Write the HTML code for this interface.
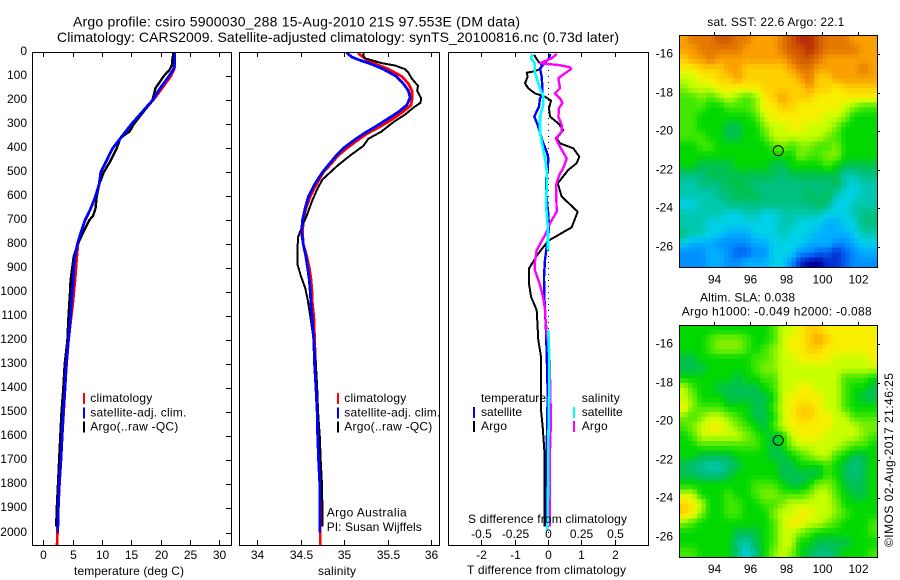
<!DOCTYPE html>
<html>
<head>
<meta charset="utf-8">
<title>Argo profile</title>
<style>
html,body{margin:0;padding:0;background:#fff;}
svg{display:block;}
text{font-family:"Liberation Sans",sans-serif;font-size:12px;fill:#000;}
</style>
</head>
<body>
<svg id="chart" xmlns="http://www.w3.org/2000/svg" width="900" height="580" viewBox="0 0 900 580"></svg>
<script>
// ---------- tick labels ----------
const depthTicks = [0,100,200,300,400,500,600,700,800,900,1000,1100,1200,1300,1400,1500,1600,1700,1800,1900,2000];
const tempTicks = [0,5,10,15,20,25,30];
const salTicks = [34,34.5,35,35.5,36];
const tDiffTicks = [-2,-1,0,1,2];
const sDiffTicks = [-0.5,-0.25,0,0.25,0.5];
const lonTicks = [94,96,98,100,102];
const latTicks = [-16,-18,-20,-22,-24,-26];

// ---------- temperature profiles ----------
const tempClimDepth = [0,50,70,100,150,200,250,300,350,400,450,500,550,600,650,700,750,800,850,900,950,1000,1050,1100,1200,1300,1400,1500,1600,1700,1800,1900,2000,2053];
const tempClimValue = [22.4,22.4,22.3,21.7,20.2,18.7,16.8,15.2,13.4,11.8,10.8,9.8,9.5,8.9,8.1,7.1,6.4,5.9,5.7,5.55,5.4,5.2,5.0,4.75,4.3,3.95,3.7,3.45,3.2,3.0,2.75,2.55,2.4,2.35];
const tempSatDepth = [0,50,70,100,150,200,250,300,350,400,450,500,550,600,650,700,750,800,850,900,950,1000,1100,1200,1300,1400,1500,1600,1700,1800,1900,2000];
const tempSatValue = [22.4,22.4,22.2,21.4,19.9,18.6,16.8,15,13.4,11.8,10.8,9.8,9.5,8.9,8.1,7.1,6.4,5.8,5.4,5.2,5.1,4.9,4.65,4.26,3.9,3.7,3.4,3.2,3.0,2.7,2.55,2.45];
const tempArgoDepth = [0,30,50,70,100,150,200,250,300,330,345,360,400,450,500,550,600,650,680,700,750,800,850,900,950,1000,1100,1200,1300,1400,1500,1600,1700,1800,1900,1975];
const tempArgoValue = [22.2,22,21.95,21.6,20.5,19.1,18.6,17,15.4,14.7,13.8,13.1,12.5,11.5,10.3,9.5,9.1,8.9,8.5,7.8,6.8,5.85,5.2,4.9,4.65,4.55,4.3,4.1,3.65,3.4,3.1,2.9,2.7,2.5,2.3,2.2];

// ---------- salinity profiles ----------
const salClimDepth = [0,10,30,50,70,100,130,160,190,220,250,280,310,340,370,400,430,460,500,550,600,650,700,750,800,850,900,950,1000,1050,1100,1200,1300,1400,1500,1600,1700,1800,1900,2000,2053];
const salClimValue = [35.16,35.18,35.26,35.37,35.51,35.66,35.74,35.78,35.785,35.77,35.67,35.55,35.41,35.26,35.14,35.03,34.93,34.86,34.76,34.68,34.61,34.56,34.53,34.52,34.53,34.57,34.6,34.62,34.63,34.635,34.65,34.66,34.67,34.68,34.69,34.7,34.71,34.72,34.725,34.725,34.725];
const salSatDepth = [0,5,20,30,50,70,100,130,160,190,220,250,280,310,340,370,400,430,460,500,550,600,650,700,750,800,850,900,950,1000,1050,1100,1200,1300,1400,1500,1600,1700,1800,1900,2000];
const salSatValue = [35.03,35.04,35.09,35.16,35.32,35.45,35.6,35.68,35.74,35.76,35.72,35.62,35.49,35.36,35.22,35.1,34.99,34.91,34.84,34.75,34.66,34.59,34.55,34.52,34.51,34.53,34.56,34.58,34.6,34.61,34.62,34.63,34.65,34.66,34.676,34.69,34.695,34.706,34.72,34.72,34.72];
const salArgoDepth = [0,15,25,45,55,70,85,110,140,160,190,210,230,260,290,330,360,390,430,470,500,530,570,620,680,720,770,830,880,930,980,1030,1100,1200,1300,1400,1500,1600,1700,1800,1900,1975];
const salArgoValue = [35.22,35.22,35.24,35.43,35.585,35.7,35.74,35.78,35.85,35.84,35.885,35.88,35.8,35.7,35.57,35.43,35.28,35.22,35.07,34.93,34.84,34.75,34.69,34.63,34.57,34.52,34.47,34.46,34.46,34.5,34.55,34.58,34.61,34.65,34.675,34.69,34.7,34.72,34.73,34.745,34.75,34.75];

// ---------- difference profiles ----------
const tDiffArgoDepth = [11,35,57,71,81,85,101,129,150,171,185,201,233,268,296,324,358,379,400,435,462,490,546,601,664,729,785,838,900,963,1018,1074,1199,1268,1490,1560,1657,1976];
const tDiffArgoValue = [-0.41,-0.31,-0.17,-0.24,-0.47,-0.64,-0.61,-0.69,-0.59,-0.39,-0.09,0.09,0.03,0.06,0.31,0.46,0.26,0.36,0.76,0.94,0.86,0.61,0.29,0.41,0.89,0.71,0.01,-0.29,-0.57,-0.57,-0.51,-0.34,-0.29,-0.21,-0.21,-0.16,-0.11,-0.11];
const tDiffSatDepth = [7,25,67,101,143,178,192,226,268,303,337,379,414,442,490,532,615,671,740,810,865,935,1018,1074,1157,1254,1420,1657,1976];
const tDiffSatValue = [0.07,0.03,-0.24,-0.19,-0.17,-0.17,-0.24,-0.27,-0.41,-0.31,-0.24,-0.14,-0.04,0.01,-0.01,-0.06,-0.04,0.01,0.03,-0.04,-0.09,-0.12,-0.11,-0.09,-0.06,-0.04,-0.01,-0.04,-0.04];
const sDiffArgoDepth = [7,25,46,53,62,71,87,108,150,171,192,212,233,268,303,331,358,393,442,462,490,504,553,664,712,761,824,879,907,969,1025,1074,1115,1171,1240,1351,1532,1657,1976];
const sDiffArgoValue = [0.065,0.028,-0.06,0.078,0.165,0.172,0.128,0.078,0.09,0.052,0.09,0.108,0.082,0.078,0.103,0.103,0.058,0.09,0.14,0.128,0.108,0.09,0.06,0.065,0.015,-0.022,-0.085,-0.1,-0.098,-0.06,-0.035,-0.022,-0.018,-0.01,0.01,0.015,0.022,0.015,0.015];
const sDiffSatDepth = [7,25,46,81,108,150,185,219,268,337,393,449,490,560,629,671,740,823,null,1157,1254,1420,1643,1851,1990];
const sDiffSatValue = [-0.118,-0.128,-0.098,-0.1,-0.085,-0.06,-0.035,-0.035,-0.06,-0.06,-0.04,-0.02,-0.01,-0.01,-0.015,-0.01,0,0,null,0.002,0.008,0.008,0.002,0,-0.005];

// ---------- map colour levels (rows north to south, columns west to east) ----------
const sstGrid = [
[15,16,16,16,17,17,16,16,15,15,15,16,17,18,18,17,16,16,16,15,15,15],
[15,15,16,16,16,16,16,15,15,15,15,16,17,17,18,17,16,16,16,16,15,15],
[14,15,15,16,15,15,15,15,15,15,15,15,16,17,17,16,15,15,15,15,15,15],
[13,13,14,14,14,15,15,14,14,14,14,14,15,16,16,15,15,15,15,15,16,15],
[12,12,13,13,14,14,15,14,14,14,14,14,14,15,16,14,14,15,15,15,15,15],
[11,12,12,12,13,13,13,13,13,14,14,14,14,14,15,14,14,13,14,14,14,14],
[10,10,11,10,11,12,11,10,11,13,14,15,14,14,14,13,13,13,13,13,13,13],
[10,10,10,9,9,10,10,10,11,13,13,14,14,13,13,13,13,13,12,11,10,10],
[10,10,9,9,9,9,9,9,10,12,13,13,13,13,13,13,12,12,11,9,9,9],
[10,10,9,9,9,8,8,9,9,11,12,12,13,13,12,12,12,11,9,9,9,9],
[10,10,10,9,9,8,8,9,9,10,12,12,12,12,12,12,11,10,9,9,9,9],
[9,9,10,10,9,9,9,9,9,9,10,11,10,11,11,10,10,11,9,9,9,9],
[9,9,9,9,9,9,9,9,9,9,9,9,9,11,10,10,11,11,9,9,9,9],
[9,9,8,8,8,8,9,9,9,9,8,8,9,9,9,9,10,9,8,8,8,8],
[7,7,7,8,8,8,8,8,8,8,8,7,8,8,8,8,8,8,6,6,7,7],
[6,6,7,7,7,8,8,8,7,7,7,7,7,7,7,7,7,8,6,5,6,6],
[6,6,6,6,7,7,8,8,8,7,7,7,7,7,8,7,8,6,5,5,6,6],
[5,5,6,6,6,7,7,7,7,7,7,7,7,7,7,8,7,5,5,6,6,6],
[6,6,6,6,6,5,5,6,6,5,5,6,6,6,6,6,5,5,5,6,7,7],
[6,6,6,5,5,5,5,5,5,5,5,6,6,5,5,5,4,4,5,5,7,7],
[7,6,6,5,5,4,4,4,5,5,5,6,5,5,5,4,4,4,4,5,6,6],
[5,4,4,4,3,3,3,3,4,4,5,5,5,5,4,4,4,3,3,4,5,5],
[3,3,3,4,4,3,2,2,3,3,5,5,5,3,3,2,2,1,2,3,4,4],
[3,3,3,4,4,3,3,4,4,4,5,5,3,1,0,0,1,1,2,3,3,3]
];
const slaGrid = [
[9,9,9,9,9,9,9,9,9,9,10,12,12,13,14,14,13,13,13,13,13,13],
[9,9,9,10,11,11,11,10,9,9,10,12,13,13,14,15,14,13,13,13,13,13],
[9,9,9,10,11,11,11,10,9,10,11,12,13,13,14,14,13,13,13,13,13,13],
[8,8,9,9,9,9,9,9,10,10,11,12,12,13,13,13,13,12,12,12,12,13],
[8,8,8,9,9,9,9,9,10,11,11,12,12,12,12,12,12,12,12,12,12,12],
[9,9,9,9,9,9,8,9,9,10,10,12,12,12,12,12,12,12,10,10,10,9],
[12,10,9,9,8,8,8,8,8,9,10,12,12,13,13,12,12,12,10,9,9,8],
[12,11,9,9,9,8,8,8,8,8,9,12,13,13,13,13,12,12,10,9,8,8],
[13,11,10,10,10,9,9,9,8,8,10,12,13,14,14,13,12,12,10,9,9,9],
[11,10,11,12,12,11,10,9,8,8,9,12,13,14,14,13,13,12,12,10,10,10],
[10,11,12,13,13,12,11,10,9,8,10,12,13,13,13,13,13,12,12,12,11,11],
[9,10,12,12,12,12,12,11,10,9,8,9,12,13,13,13,12,12,12,12,11,10],
[9,9,10,10,10,10,10,10,10,9,8,9,11,12,12,12,12,12,11,10,10,9],
[9,9,8,8,8,8,9,9,9,9,8,8,9,10,11,12,12,10,9,8,8,9],
[8,7,7,6,6,7,8,9,9,9,9,8,8,9,9,9,10,9,8,7,8,9],
[8,8,7,7,7,8,9,9,9,9,9,8,8,8,8,8,10,9,8,7,8,9],
[9,9,9,9,9,9,9,9,10,10,10,9,8,8,9,11,11,10,8,8,8,9],
[12,12,9,9,9,10,9,9,10,11,11,10,10,10,11,12,12,10,9,8,8,9],
[14,13,12,9,9,10,10,9,9,10,10,11,12,12,12,12,12,11,9,9,9,9],
[14,13,11,9,9,10,10,9,9,9,11,12,12,13,13,12,12,11,10,9,9,9],
[11,10,9,9,9,9,9,9,9,9,10,12,13,13,12,12,11,10,9,9,9,10],
[9,9,9,9,9,9,8,8,8,9,10,12,12,11,10,9,9,9,9,9,9,10],
[9,9,9,9,9,9,7,6,8,9,10,12,12,9,9,8,8,8,8,9,9,9],
[10,10,9,9,9,9,7,5,7,9,11,12,11,9,8,7,7,8,9,9,9,10]
];
const argoLon = 97.553;
const argoLat = -21;

// ---------- helpers ----------
const NS = 'http://www.w3.org/2000/svg';
const svg = document.getElementById('chart');
const colourRamp = [[0,0,160],[0,48,208],[0,96,240],[0,144,255],[0,176,255],[0,208,232],[0,200,176],[0,192,128],[0,192,80],[0,216,0],[64,232,0],[128,240,0],[200,255,0],[248,240,0],[255,208,0],[250,160,0],[228,120,0],[208,88,0],[184,40,8]];

function mk(tag, parent, name, attrs) {
  const el = document.createElementNS(NS, tag);
  
  
  for (const k in attrs) el.setAttribute(k, attrs[k]);
  parent.appendChild(el);
  return el;
}
function label(parent, name, str, x, y, anchor, fitWidth, size) {
  const attrs = {x: x, y: y, 'text-anchor': anchor || 'start'};
  if (fitWidth) { attrs.textLength = fitWidth; attrs.lengthAdjust = 'spacing'; }
  if (size) attrs.style = 'font-size:' + size + 'px';
  const el = mk('text', parent, name, attrs);
  el.textContent = str;
  return el;
}
function frame(parent, name, x0, y0, x1, y1) {
  mk('rect', parent, name, {x: x0 + 0.5, y: y0 + 0.5, width: x1 - x0, height: y1 - y0, fill: 'none', stroke: '#000', 'stroke-width': 1, 'shape-rendering': 'crispEdges'});
}
function tick(parent, name, x1, y1, x2, y2) {
  mk('line', parent, name, {x1: x1, y1: y1, x2: x2, y2: y2, stroke: '#000', 'stroke-width': 1, 'shape-rendering': 'crispEdges'});
}
function profile(parent, name, depths, values, xFn, colour, width) {
  let segs = [], cur = [];
  depths.forEach(function (d, i) {
    if (d === null || values[i] === null) { if (cur.length) segs.push(cur); cur = []; return; }
    cur.push(xFn(values[i]).toFixed(1) + ',' + yDepth(d).toFixed(1));
  });
  if (cur.length) segs.push(cur);
  segs.forEach(function (s) {
    mk('polyline', parent, name, {points: s.join(' '), fill: 'none', stroke: colour, 'stroke-width': width, 'stroke-linejoin': 'round', 'shape-rendering': 'crispEdges'});
  });
}
function yDepth(d) { return 52.3 + 0.2401 * d; }
const xTemp = function (t) { return 43.3 + 5.87 * t; };
const xSal = function (s) { return 257.3 + 86.85 * (s - 34); };
const xTDiff = function (t) { return 548 + 33.33 * t; };
const xSDiff = function (s) { return 548 + 133.33 * s; };

function clip(id, x0, y0, x1, y1) {
  const c = mk('clipPath', svg, id, {id: id});
  mk('rect', c, id + '-rect', {x: x0, y: y0, width: x1 - x0, height: y1 - y0});
  return 'url(#' + id + ')';
}

const PTOP = 52, PBOT = 545;

// ---------- titles ----------
label(svg, 'chart-title-line-1', 'Argo profile: csiro 5900030_288 15-Aug-2010 21S 97.553E (DM data)', 73, 26.5, 'start', 447, 14);
label(svg, 'chart-title-line-2', 'Climatology: CARS2009. Satellite-adjusted climatology: synTS_20100816.nc (0.73d later)', 57, 42, 'start', 562, 14);

// ---------- panel 1: temperature ----------
const p1 = mk('g', svg, 'temperature-panel', {});
const p1Lines = mk('g', p1, 'temperature-series', {'clip-path': clip('clip-temp', 32, PTOP, 232, PBOT)});
profile(p1Lines, 'temperature-climatology-line', tempClimDepth, tempClimValue, xTemp, '#ff0000', 2.8);
profile(p1Lines, 'temperature-argo-line', tempArgoDepth, tempArgoValue, xTemp, '#000000', 2.4);
profile(p1Lines, 'temperature-satellite-line', tempSatDepth, tempSatValue, xTemp, '#0000ff', 2.8);
frame(p1, 'temperature-frame', 32, PTOP, 231, PBOT);
depthTicks.forEach(function (d) {
  const y = Math.round(yDepth(d)) + 0.5;
  tick(p1, 'depth-tick', 226, y, 231, y);
  label(p1, 'depth-tick-label', String(d), 27, y + 2.6, 'end');
});
tempTicks.forEach(function (t) {
  const x = Math.round(xTemp(t)) + 0.5;
  tick(p1, 'temperature-tick-top', x, 52, x, 57);
  tick(p1, 'temperature-tick-bottom', x, 540, x, 545);
  label(p1, 'temperature-tick-label', String(t), x, 559, 'middle');
});
label(p1, 'temperature-axis-title', 'temperature (deg C)', 74, 575, 'start', 110);

// ---------- panel 2: salinity ----------
const p2 = mk('g', svg, 'salinity-panel', {});
const p2Lines = mk('g', p2, 'salinity-series', {'clip-path': clip('clip-sal', 239, PTOP, 440, PBOT)});
profile(p2Lines, 'salinity-climatology-line', salClimDepth, salClimValue, xSal, '#ff0000', 2.8);
profile(p2Lines, 'salinity-argo-line', salArgoDepth, salArgoValue, xSal, '#000000', 2);
profile(p2Lines, 'salinity-satellite-line', salSatDepth, salSatValue, xSal, '#0000ff', 2.8);
frame(p2, 'salinity-frame', 239, PTOP, 439, PBOT);
salTicks.forEach(function (s) {
  const x = Math.round(xSal(s)) + 0.5;
  tick(p2, 'salinity-tick-top', x, 52, x, 57);
  tick(p2, 'salinity-tick-bottom', x, 540, x, 545);
  label(p2, 'salinity-tick-label', String(s), x, 559, 'middle');
});
label(p2, 'salinity-axis-title', 'salinity', 318, 575, 'start', 38);
label(p2, 'credit-argo-australia', 'Argo Australia', 326.7, 516.7, 'start', 80);
label(p2, 'credit-pi-name', 'PI: Susan Wijffels', 326.7, 531, 'start', 95);

// ---------- panel 3: differences ----------
const p3 = mk('g', svg, 'difference-panel', {});
const p3Lines = mk('g', p3, 'difference-series', {'clip-path': clip('clip-diff', 448, PTOP, 649, PBOT)});
mk('line', p3Lines, 'zero-reference-line', {x1: 548.5, y1: 52, x2: 548.5, y2: 538, stroke: '#000', 'stroke-width': 1, 'stroke-dasharray': '1 5', 'shape-rendering': 'crispEdges'});
profile(p3Lines, 'tdiff-argo-line', tDiffArgoDepth, tDiffArgoValue, xTDiff, '#000000', 2);
profile(p3Lines, 'tdiff-satellite-line', tDiffSatDepth, tDiffSatValue, xTDiff, '#0000ff', 2.4);
profile(p3Lines, 'sdiff-argo-line', sDiffArgoDepth, sDiffArgoValue, xSDiff, '#ff00ff', 2.4);
profile(p3Lines, 'sdiff-satellite-line', sDiffSatDepth, sDiffSatValue, xSDiff, '#00ffff', 2.6);
frame(p3, 'difference-frame', 448, PTOP, 648, PBOT);
tDiffTicks.forEach(function (t) {
  const x = Math.round(xTDiff(t)) + 0.5;
  tick(p3, 'tdiff-tick-bottom', x, 540, x, 545);
  label(p3, 'tdiff-tick-label', String(t), x, 559, 'middle');
});
sDiffTicks.forEach(function (s) {
  const x = Math.round(xSDiff(s)) + 0.5;
  tick(p3, 'sdiff-tick-top', x, 52, x, 57);
  label(p3, 'sdiff-tick-label', String(s), x, 538, 'middle');
});
label(p3, 'sdiff-axis-title', 'S difference from climatology', 468, 523, 'start', 159);
label(p3, 'tdiff-axis-title', 'T difference from climatology', 467, 574, 'start', 159);

// ---------- legends ----------
function legendRow(parent, prefix, barX, textX, y, colour, str, w) {
  if (colour) mk('rect', parent, prefix + '-swatch', {x: barX, y: y - 9, width: 2, height: 11, fill: colour, 'shape-rendering': 'crispEdges'});
  label(parent, prefix + '-label', str, textX, y, 'start', w);
}
const lg1 = mk('g', svg, 'temperature-legend', {});
legendRow(lg1, 'temperature-legend-climatology', 83, 90.3, 402, '#ff0000', 'climatology', 62);
legendRow(lg1, 'temperature-legend-satellite', 83, 90.3, 416.5, '#0000ff', 'satellite-adj. clim.', 96);
legendRow(lg1, 'temperature-legend-argo', 83, 90.3, 430.5, '#000000', 'Argo(..raw -QC)', 88);
const lg2 = mk('g', svg, 'salinity-legend', {});
legendRow(lg2, 'salinity-legend-climatology', 337, 344.3, 402, '#ff0000', 'climatology', 62);
legendRow(lg2, 'salinity-legend-satellite', 337, 344.3, 416.5, '#0000ff', 'satellite-adj. clim.', 96);
legendRow(lg2, 'salinity-legend-argo', 337, 344.3, 430.5, '#000000', 'Argo(..raw -QC)', 88);
const lg3 = mk('g', svg, 'difference-legend', {});
legendRow(lg3, 'difference-legend-temperature', 0, 481, 402, null, 'temperature', 65);
legendRow(lg3, 'difference-legend-t-satellite', 473, 481, 416, '#0000ff', 'satellite', 41);
legendRow(lg3, 'difference-legend-t-argo', 473, 481, 430, '#000000', 'Argo', 26);
legendRow(lg3, 'difference-legend-salinity', 0, 581.7, 402, null, 'salinity', 38);
legendRow(lg3, 'difference-legend-s-satellite', 573, 581.7, 416, '#00ffff', 'satellite', 41);
legendRow(lg3, 'difference-legend-s-argo', 573, 581.7, 430, '#ff00ff', 'Argo', 26);

// ---------- maps ----------
function levelColour(v) {
  const top = colourRamp.length - 1;
  const c = Math.max(0, Math.min(top, v));
  const a = Math.floor(c), b = Math.min(top, a + 1), f = c - a;
  const ch = [0, 1, 2].map(function (k) { return Math.round(colourRamp[a][k] + (colourRamp[b][k] - colourRamp[a][k]) * f); });
  return 'rgb(' + ch.join(',') + ')';
}
function sampleGrid(grid, u, v) {
  const rows = grid.length, cols = grid[0].length;
  const cu = Math.max(0, Math.min(cols - 1, u)), cv = Math.max(0, Math.min(rows - 1, v));
  const i0 = Math.floor(cu), j0 = Math.floor(cv);
  const i1 = Math.min(cols - 1, i0 + 1), j1 = Math.min(rows - 1, j0 + 1);
  const fu = cu - i0, fv = cv - j0;
  return (grid[j0][i0] * (1 - fu) + grid[j0][i1] * fu) * (1 - fv) + (grid[j1][i0] * (1 - fu) + grid[j1][i1] * fu) * fv;
}
function drawMap(prefix, grid, top, lat16Y, labelY) {
  const g = mk('g', svg, prefix + '-map', {});
  const left = 679, sub = 2;
  const cw = 198 / (grid[0].length * sub), ch = 232 / (grid.length * sub);
  const xLon = function (lon) { return 714.3 + (lon - 94) * 18; };
  const yLat = function (lat) { return lat16Y + (-16 - lat) * 19.27; };
  for (let j = 0; j < grid.length * sub; j++) {
    for (let i = 0; i < grid[0].length * sub; i++) {
      const value = sampleGrid(grid, (i + 0.5) / sub - 0.5, (j + 0.5) / sub - 0.5);
      mk('rect', g, prefix + '-cell', {x: (left + i * cw).toFixed(2), y: (top + j * ch).toFixed(2), width: (cw + 0.4).toFixed(2), height: (ch + 0.4).toFixed(2), fill: levelColour(value), 'shape-rendering': 'crispEdges'});
    }
  }
  mk('rect', g, prefix + '-frame', {x: left + 0.5, y: top + 0.5, width: 198, height: 232, fill: 'none', stroke: '#000', 'stroke-width': 1, 'shape-rendering': 'crispEdges'});
  lonTicks.forEach(function (lon) {
    const x = Math.round(xLon(lon)) + 0.5;
    tick(g, prefix + '-lon-tick', x, top - 3, x, top);
    label(g, prefix + '-lon-label', String(lon), x, labelY, 'middle');
  });
  latTicks.forEach(function (lat) {
    const y = Math.round(yLat(lat)) + 0.5;
    tick(g, prefix + '-lat-tick', 877, y, 880, y);
    label(g, prefix + '-lat-label', String(lat), 673, y + 2.8, 'end');
  });
  mk('circle', g, prefix + '-argo-position-marker', {cx: xLon(argoLon), cy: yLat(argoLat), r: 5, fill: 'none', stroke: '#000', 'stroke-width': 1});
}
drawMap('sst', sstGrid, 35, 54.3, 283.3);
drawMap('sla', slaGrid, 325, 344, 573);
label(svg, 'sst-map-title', 'sat. SST: 22.6 Argo: 22.1', 707.3, 26, 'start', 137);
label(svg, 'sla-map-title-line-1', 'Altim. SLA: 0.038', 700, 301.7, 'start', 95);
label(svg, 'sla-map-title-line-2', 'Argo h1000: -0.049 h2000: -0.088', 681.7, 315.7, 'start', 190);
const stamp = label(svg, 'imos-timestamp', '\u00A9IMOS 02-Aug-2017 21:46:25', 0, 0, 'start', 174);
stamp.setAttribute('transform', 'translate(893 547) rotate(-90)');
</script>
</body>
</html>
